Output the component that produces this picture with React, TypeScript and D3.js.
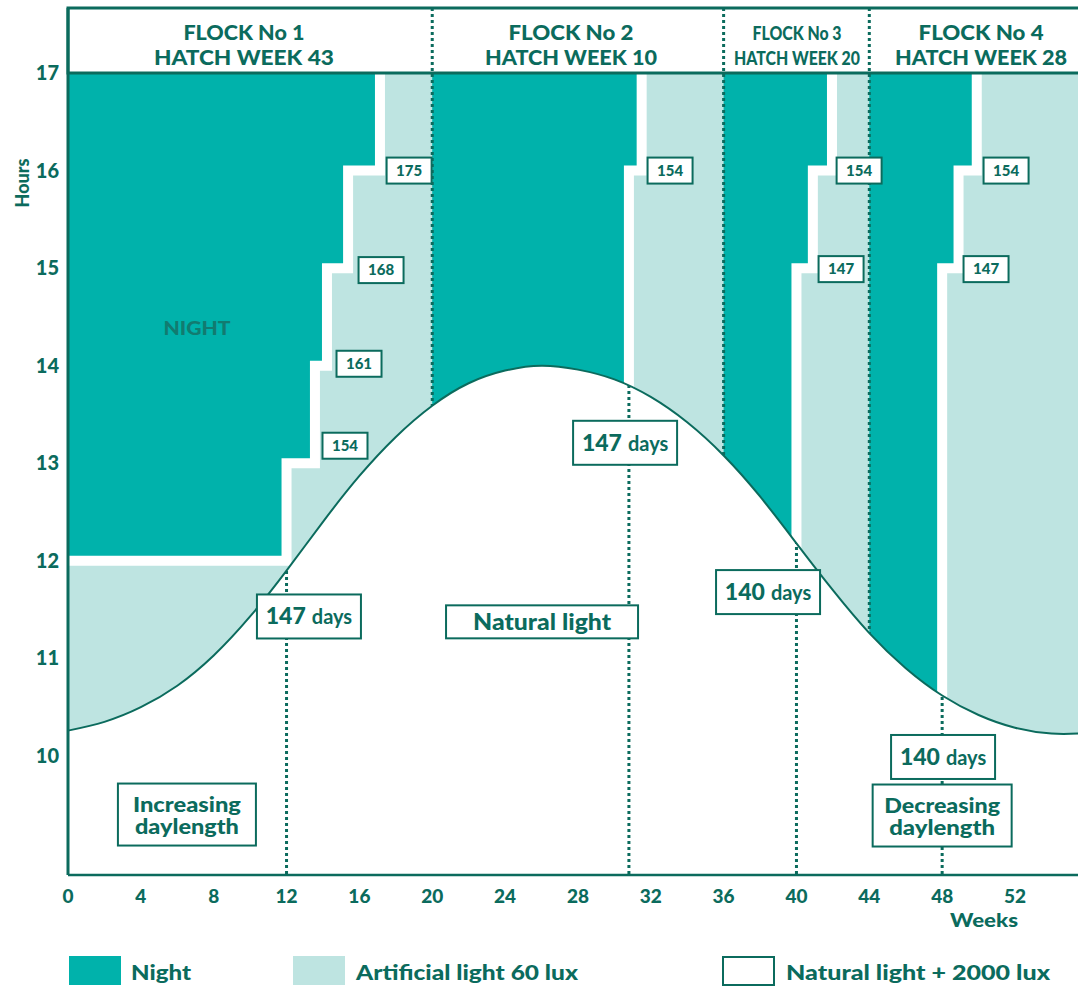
import * as d3 from "d3";

const width = 1078;
const height = 987;
const plotLeft = 68;
const headerTop = 8;
const plotTop = 73;
const plotBottom = 875;

const dark = "#0b6b5d";
const nightFill = "#00b2ab";
const artificialFill = "#bee4e1";
const font = "Lato, 'Open Sans', sans-serif";

const weekTicks = [0, 4, 8, 12, 16, 20, 24, 28, 32, 36, 40, 44, 48, 52];
const hourTicks = [10, 11, 12, 13, 14, 15, 16, 17];

// natural daylength
const dayWeeks = [0, 2, 4, 6, 8, 10, 12, 14, 16, 18, 20, 22, 24, 26, 28, 30, 32, 34, 36, 38, 40, 42, 44, 46, 48, 50, 52, 54, 55.5];
const dayHours = [10.26, 10.35, 10.5, 10.72, 11.03, 11.43, 11.9, 12.4, 12.87, 13.27, 13.59, 13.82, 13.95, 14.0, 13.96, 13.86, 13.68, 13.42, 13.08, 12.66, 12.18, 11.7, 11.26, 10.9, 10.62, 10.42, 10.29, 10.23, 10.23];

const flockNames = ["FLOCK No 1", "FLOCK No 2", "FLOCK No 3", "FLOCK No 4"];
const flockHatch = ["HATCH WEEK 43", "HATCH WEEK 10", "HATCH WEEK 20", "HATCH WEEK 28"];
const flockStart = [0, 20, 36, 44];
const flockEnd = [20, 36, 44, 55.5];
// light hours before the first step (null = natural light only)
const flockBaseHours = [12, null, null, null];
const flockStepWeeks = [
  [12, 13.56, 14.22, 15.38, 17.13],
  [30.8, 31.5],
  [40, 40.9, 41.95],
  [48, 48.9, 49.9],
];
const flockStepHours = [
  [13, 14, 15, 16, 17],
  [16, 17],
  [15, 16, 17],
  [15, 16, 17],
];

// small day labels at the light steps
const stepLabels = ["154", "161", "168", "175", "154", "154", "147", "154", "147"];
const stepLabelWeeks = [15.21, 15.98, 17.19, 18.73, 33.06, 43.44, 42.45, 51.51, 50.41];
const stepLabelHours = [13.18, 14.02, 14.98, 16.0, 16.0, 16.0, 14.99, 16.0, 14.99];

// age at light stimulation
const ageDays = ["147", "147", "140", "140"];
const ageLineWeeks = [12, 30.8, 40, 48];
const ageBoxWeeks = [13.23, 30.59, 38.44, 48.05];
const ageBoxHours = [11.43, 13.21, 11.68, 9.99];

const legendLabels = ["Night", "Artificial light 60 lux", "Natural light + 2000 lux"];

const x = d3.scaleLinear().domain([0, 52]).range([plotLeft, 1015]);
const weekMax = x.invert(width + 2);
const y = d3.scaleLinear().domain([17, 10]).range([plotTop, 756]);
const hourMin = y.invert(plotBottom);

const dayData = dayWeeks.map((w, i) => ({ w, h: dayHours[i] }));

const dayLine = d3
  .line<{ w: number; h: number }>()
  .x((d) => x(d.w))
  .y((d) => y(d.h))
  .curve(d3.curveNatural);

const belowArea = d3
  .area<{ w: number; h: number }>()
  .x((d) => x(d.w))
  .y0(y(hourMin))
  .y1((d) => y(d.h))
  .curve(d3.curveNatural);

const poly = d3
  .line<[number, number]>()
  .x((d) => x(d[0]))
  .y((d) => y(d[1]));

function nightPoints(i: number): [number, number][] {
  const weeks = flockStepWeeks[i];
  const hours = flockStepHours[i];
  const base = flockBaseHours[i] ?? hourMin;
  const pts: [number, number][] = [
    [flockStart[i], 17],
    [weeks[weeks.length - 1], 17],
  ];
  for (let k = weeks.length - 1; k >= 0; k--) {
    pts.push([weeks[k], hours[k]]);
    pts.push([weeks[k], k > 0 ? hours[k - 1] : base]);
  }
  pts.push([flockStart[i], base]);
  return pts;
}

function gapPoints(i: number): [number, number][] {
  const weeks = flockStepWeeks[i];
  const hours = flockStepHours[i];
  const base = flockBaseHours[i];
  const pts: [number, number][] = [];
  if (base !== null) pts.push([flockStart[i], base]);
  weeks.forEach((w, k) => {
    pts.push([w, k > 0 ? hours[k - 1] : base ?? hourMin]);
    pts.push([w, hours[k]]);
  });
  return pts;
}

const Box = ({ cx, cy, w, h, children }: any) => (
  <g transform={`translate(${cx},${cy})`}>
    <rect x={-w / 2} y={-h / 2} width={w} height={h} fill="#fff" stroke={dark} strokeWidth={2} />
    {children}
  </g>
);

// header text widths (px)
const flockNameWidths = [121, 125, 89, 125];
const flockHatchWidths = [180, 172, 126, 172];
const headerCenterWeeks = [9.66, 27.62, 40.03, 50.14];

export default function App() {
  const dots = { stroke: dark, strokeWidth: 3, strokeDasharray: "3 3" };
  const fit = { lengthAdjust: "spacingAndGlyphs" as const };
  return (
    <svg
      width={width}
      height={height}
      viewBox={`0 0 ${width} ${height}`}
      style={{ position: "absolute", left: 0, top: 0, background: "#fff" }}
      fontFamily={font}
      fontWeight={900}
    >
      <defs>
        <clipPath id="below">
          <path d={belowArea(dayData) as string} />
        </clipPath>
      </defs>

      {/* artificial light everywhere, then night on top */}
      <rect
        x={x(0)}
        y={y(17)}
        width={x(weekMax) - x(0)}
        height={y(hourMin) - y(17)}
        fill={artificialFill}
      />
      {flockNames.map((_, i) => (
        <path key={`n${i}`} d={poly(nightPoints(i)) as string} fill={nightFill} />
      ))}
      {flockNames.map((_, i) => (
        <path
          key={`g${i}`}
          d={poly(gapPoints(i)) as string}
          fill="none"
          stroke="#fff"
          strokeWidth={10}
          strokeLinejoin="miter"
        />
      ))}

      {/* flock separators */}
      {flockStart.slice(1).map((w) => (
        <line key={`s${w}`} x1={x(w)} x2={x(w)} y1={headerTop} y2={plotBottom} {...dots} />
      ))}

      {/* natural light below the curve */}
      <path d={belowArea(dayData) as string} fill="#fff" />
      <path d={dayLine(dayData) as string} fill="none" stroke={dark} strokeWidth={2} />

      <g clipPath="url(#below)">
        {ageLineWeeks.map((w) => (
          <line key={`a${w}`} x1={x(w)} x2={x(w)} y1={y(17)} y2={plotBottom} {...dots} />
        ))}
      </g>

      {/* header */}
      <rect
        x={plotLeft}
        y={headerTop}
        width={width - plotLeft + 4}
        height={plotTop - headerTop}
        fill="#fff"
        stroke={dark}
        strokeWidth={3}
      />
      {flockStart.slice(1).map((w) => (
        <line key={`h${w}`} x1={x(w)} x2={x(w)} y1={headerTop} y2={plotTop} {...dots} />
      ))}
      {flockNames.map((name, i) => {
        const cx = x(headerCenterWeeks[i]);
        return (
          <g key={`t${i}`} fill={dark} textAnchor="middle" fontSize={i === 2 ? 18 : 20}>
            <text x={cx} y={40} textLength={flockNameWidths[i]} {...fit}>
              {name}
            </text>
            <text x={cx} y={65} textLength={flockHatchWidths[i]} {...fit}>
              {flockHatch[i]}
            </text>
          </g>
        );
      })}

      {/* axes */}
      <line x1={plotLeft} x2={plotLeft} y1={headerTop} y2={plotBottom} stroke={dark} strokeWidth={3} />
      <line x1={plotLeft} x2={width} y1={plotBottom} y2={plotBottom} stroke={dark} strokeWidth={2.5} />
      {hourTicks.map((h) => (
        <text key={`yt${h}`} x={59} y={y(h) + 7} textAnchor="end" fontSize={20} fill={dark}>
          {h}
        </text>
      ))}
      <text transform={`translate(29,183) rotate(-90)`} textAnchor="middle" fontSize={18} fill={dark}>
        Hours
      </text>
      {weekTicks.map((w) => (
        <text key={`xt${w}`} x={x(w)} y={903} textAnchor="middle" fontSize={19} fill={dark}>
          {w}
        </text>
      ))}
      <text x={984} y={927} textAnchor="middle" fontSize={18} fill={dark} textLength={68} {...fit}>
        Weeks
      </text>

      {/* annotations */}
      <text
        x={x(7.08)}
        y={y(14.39) + 7}
        textAnchor="middle"
        fontSize={18}
        fill="#127b70"
        textLength={67}
        {...fit}
      >
        NIGHT
      </text>
      {stepLabels.map((t, i) => (
        <Box key={`sl${i}`} cx={x(stepLabelWeeks[i])} cy={y(stepLabelHours[i])} w={45} h={26}>
          <text y={5} textAnchor="middle" fontSize={15} fill={dark}>
            {t}
          </text>
        </Box>
      ))}
      {ageDays.map((t, i) => (
        <Box key={`ad${i}`} cx={x(ageBoxWeeks[i])} cy={y(ageBoxHours[i])} w={104} h={44}>
          <text y={8} textAnchor="middle" fill={dark}>
            <tspan fontSize={23}>{t}</tspan>
            <tspan fontSize={20} fontWeight={700} dx={6}>
              days
            </tspan>
          </text>
        </Box>
      ))}
      <Box cx={x(26.03)} cy={y(11.375)} w={192} h={33}>
        <text y={8} textAnchor="middle" fontSize={22} fill={dark} textLength={138} {...fit}>
          Natural light
        </text>
      </Box>
      <Box cx={x(6.53)} cy={y(9.4)} w={138} h={62}>
        <g textAnchor="middle" fontSize={20} fill={dark}>
          <text x={0} y={-3} textLength={108} {...fit}>
            Increasing
          </text>
          <text x={0} y={19} textLength={104} {...fit}>
            daylength
          </text>
        </g>
      </Box>
      <Box cx={x(48.0)} cy={y(9.39)} w={139} h={62}>
        <g textAnchor="middle" fontSize={20} fill={dark}>
          <text x={0} y={-3} textLength={116} {...fit}>
            Decreasing
          </text>
          <text x={0} y={19} textLength={106} {...fit}>
            daylength
          </text>
        </g>
      </Box>

      {/* legend */}
      <rect x={69} y={956} width={52} height={29} fill={nightFill} />
      <rect x={293} y={956} width={52} height={29} fill={artificialFill} />
      <rect x={723} y={957} width={51} height={28} fill="#fff" stroke={dark} strokeWidth={2} />
      {legendLabels.map((t, i) => (
        <text
          key={t}
          x={[131, 356, 786][i]}
          y={980}
          fontSize={21}
          fill={dark}
          textLength={[60, 222, 264][i]}
          {...fit}
        >
          {t}
        </text>
      ))}
    </svg>
  );
}
